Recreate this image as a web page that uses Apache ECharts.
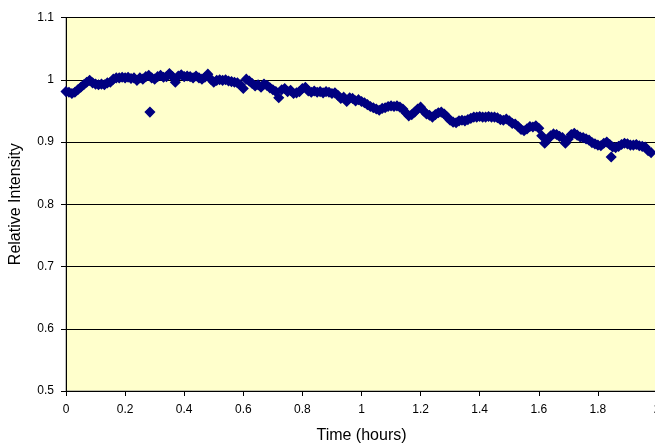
<!DOCTYPE html>
<html>
<head>
<meta charset="utf-8">
<script src="https://cdn.jsdelivr.net/npm/echarts@6/dist/echarts.min.js"></script>
<style>html,body{margin:0;padding:0;background:#fff}#c{width:655px;height:448px}</style>
</head>
<body>
<div id="c"></div>
<script>
var times = [0.00,0.01,0.02,0.03,0.04,0.05,0.06,0.07,0.08,0.09,0.10,0.11,0.12,0.13,0.14,0.15,0.16,0.17,0.18,0.19,
0.20,0.21,0.22,0.23,0.24,0.25,0.26,0.27,0.28,0.29,0.30,0.31,0.32,0.33,0.34,0.35,0.36,0.37,0.38,0.39,
0.40,0.41,0.42,0.43,0.44,0.45,0.46,0.47,0.48,0.49,0.50,0.51,0.52,0.53,0.54,0.55,0.56,0.57,0.58,0.59,
0.60,0.61,0.62,0.63,0.64,0.65,0.66,0.67,0.68,0.69,0.70,0.71,0.72,0.73,0.74,0.75,0.76,0.77,0.78,0.79,
0.80,0.81,0.82,0.83,0.84,0.85,0.86,0.87,0.88,0.89,0.90,0.91,0.92,0.93,0.94,0.95,0.96,0.97,0.98,0.99,
1.00,1.01,1.02,1.03,1.04,1.05,1.06,1.07,1.08,1.09,1.10,1.11,1.12,1.13,1.14,1.15,1.16,1.17,1.18,1.19,
1.20,1.21,1.22,1.23,1.24,1.25,1.26,1.27,1.28,1.29,1.30,1.31,1.32,1.33,1.34,1.35,1.36,1.37,1.38,1.39,
1.40,1.41,1.42,1.43,1.44,1.45,1.46,1.47,1.48,1.49,1.50,1.51,1.52,1.53,1.54,1.55,1.56,1.57,1.58,1.59,
1.60,1.61,1.62,1.63,1.64,1.65,1.66,1.67,1.68,1.69,1.70,1.71,1.72,1.73,1.74,1.75,1.76,1.77,1.78,1.79,
1.80,1.81,1.82,1.83,1.84,1.85,1.86,1.87,1.88,1.89,1.90,1.91,1.92,1.93,1.94,1.95,1.96,1.97,1.98,
0.284,1.845];
var intensity = [0.981,0.980,0.978,0.980,0.984,0.988,0.992,0.996,0.999,0.995,0.993,0.992,0.993,0.992,0.995,0.996,1.001,1.003,1.003,1.004,
1.003,1.004,1.002,1.003,0.999,1.003,1.001,1.005,1.007,1.003,1.001,1.005,1.007,1.004,1.005,1.010,1.005,0.996,1.006,1.008,
1.005,1.006,1.005,1.003,1.006,1.003,1.001,1.004,1.009,1.001,0.996,0.999,1.000,0.999,1.000,0.998,0.997,0.996,0.995,0.992,
0.986,1.001,0.998,0.994,0.990,0.992,0.988,0.993,0.991,0.987,0.984,0.981,0.971,0.984,0.986,0.981,0.983,0.978,0.979,0.981,
0.986,0.988,0.982,0.980,0.982,0.980,0.981,0.979,0.981,0.980,0.978,0.979,0.975,0.970,0.972,0.965,0.971,0.970,0.966,0.968,
0.965,0.963,0.960,0.957,0.955,0.953,0.951,0.954,0.955,0.957,0.958,0.957,0.958,0.956,0.953,0.947,0.942,0.944,0.948,0.953,
0.956,0.950,0.945,0.943,0.940,0.944,0.947,0.948,0.945,0.940,0.935,0.932,0.931,0.934,0.935,0.934,0.936,0.938,0.940,0.940,
0.941,0.940,0.940,0.941,0.940,0.940,0.939,0.936,0.935,0.937,0.934,0.930,0.929,0.925,0.920,0.918,0.921,0.925,0.924,0.926,
0.922,0.910,0.898,0.904,0.910,0.913,0.912,0.909,0.907,0.898,0.905,0.912,0.914,0.911,0.908,0.907,0.905,0.903,0.899,0.897,
0.895,0.894,0.898,0.900,0.896,0.892,0.891,0.893,0.896,0.898,0.897,0.895,0.895,0.896,0.894,0.893,0.892,0.886,0.883,
0.948,0.876];
var xTicks = [0, 0.2, 0.4, 0.6, 0.8, 1, 1.2, 1.4, 1.6, 1.8, 2];
var yTicks = [0.5, 0.6, 0.7, 0.8, 0.9, 1, 1.1];

var pts = times.map(function (t, i) { return [t, intensity[i]]; });
var chart = echarts.init(document.getElementById('c'), null, {renderer: 'canvas'});
var font = 'Liberation Sans, Arial, sans-serif';
chart.setOption({
  animation: false,
  backgroundColor: '#ffffff',
  grid: {left: 66, top: 17.5, right: -2, bottom: 57, show: true, containLabel: false,
    outerBoundsMode: 'none',
    backgroundColor: '#FFFFCC', borderColor: '#808080', borderWidth: 1},
  xAxis: {
    type: 'value', min: xTicks[0], max: xTicks[xTicks.length - 1], interval: 0.2,
    name: 'Time (hours)', nameLocation: 'middle', nameGap: 37,
    nameTextStyle: {fontFamily: font, fontSize: 16, color: '#000'},
    axisLine: {show: true, onZero: false, lineStyle: {color: '#000', width: 1}},
    axisTick: {show: true, length: 5, lineStyle: {color: '#000'}},
    axisLabel: {margin: 13, fontFamily: font, fontSize: 12, color: '#000',
      showMinLabel: true, showMaxLabel: true, hideOverlap: false,
      formatter: function (v) { return String(Math.round(v * 10) / 10); }},
    splitLine: {show: false}
  },
  yAxis: {
    type: 'value', min: yTicks[0], max: yTicks[yTicks.length - 1], interval: 0.1,
    name: 'Relative Intensity', nameLocation: 'middle', nameGap: 42,
    nameTextStyle: {fontFamily: font, fontSize: 16, color: '#000'},
    axisLine: {show: true, onZero: false, lineStyle: {color: '#000', width: 1}},
    axisTick: {show: true, length: 5, lineStyle: {color: '#000'}},
    axisLabel: {margin: 12, fontFamily: font, fontSize: 12, color: '#000',
      formatter: function (v) { return String(Math.round(v * 10) / 10); }},
    splitLine: {show: true, lineStyle: {color: '#000', width: 1}}
  },
  series: [{
    type: 'scatter', data: pts, symbol: 'diamond', symbolSize: 9,
    itemStyle: {color: '#000080', borderColor: '#000080', borderWidth: 1.5, opacity: 1}, clip: false
  }]
});
</script>
</body>
</html>
